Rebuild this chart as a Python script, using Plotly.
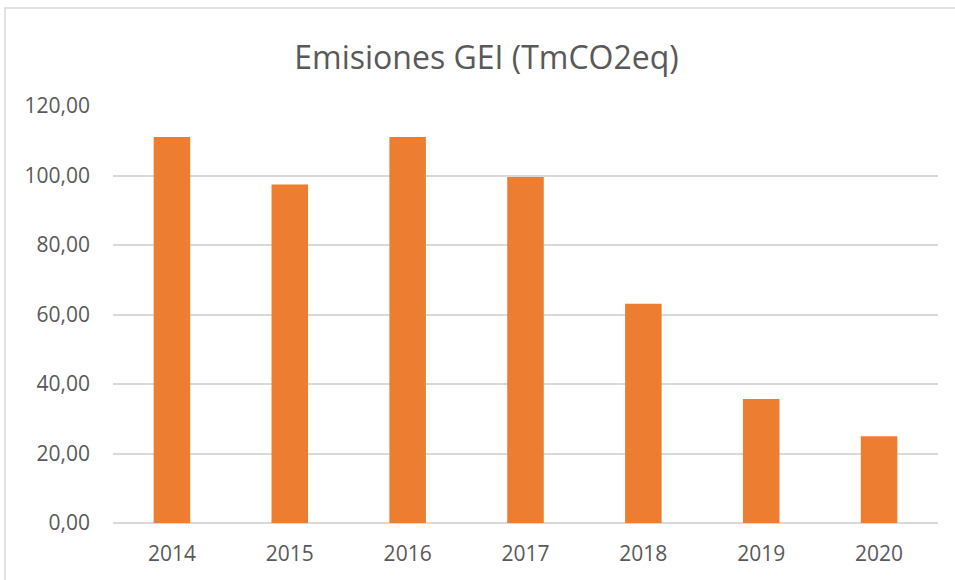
import plotly.graph_objects as go

years = ["2014", "2015", "2016", "2017", "2018", "2019", "2020"]
emissions = [111.1, 97.4, 111.1, 99.6, 63.1, 35.7, 25.0]
y_ticks = [0, 20, 40, 60, 80, 100, 120]

W, H = 955, 580
ml, mr, mt, mb = 113, 17, 106, 57
pw, ph = W - ml - mr, H - mt - mb

fig = go.Figure(go.Bar(
    x=years, y=emissions,
    marker=dict(color="#ED7D31", line=dict(width=0)),
    width=0.31,
))

def px_to_paper_x(px):
    return (px - ml) / pw

def px_to_paper_y(py):
    return (H - mb - py) / ph

fig.update_layout(
    width=W, height=H,
    margin=dict(l=ml, r=mr, t=mt, b=mb),
    paper_bgcolor="white", plot_bgcolor="white",
    separators=",.",
    showlegend=False,
    font=dict(family="Open Sans, sans-serif", color="#595959"),
    title=dict(text="Emisiones GEI (TmCO2eq)", x=486.5 / W, xanchor="center",
               y=1 - 58 / H, yanchor="middle", yref="container",
               font=dict(size=32, color="#595959")),
    xaxis=dict(showgrid=False, showline=False, ticks="", tickfont=dict(size=21, color="#595959"),
               ticklabelstandoff=16),
    yaxis=dict(range=[0, 120], tickvals=y_ticks, tickformat=".2f",
               showgrid=True, gridcolor="#D9D9D9", gridwidth=1.5,
               zeroline=True, zerolinecolor="#D9D9D9", zerolinewidth=1.5,
               showline=False, ticks="", tickfont=dict(size=21, color="#595959"),
               ticklabelstandoff=22),
    shapes=[dict(type="rect", xref="paper", yref="paper",
                 x0=px_to_paper_x(5), x1=px_to_paper_x(965),
                 y0=px_to_paper_y(595), y1=px_to_paper_y(8),
                 line=dict(color="#D9D9D9", width=1.5), fillcolor="rgba(0,0,0,0)",
                 layer="below")],
)

fig.write_html("out.html", config={"displayModeBar": False},
               post_script="document.body.style.margin='0';")
